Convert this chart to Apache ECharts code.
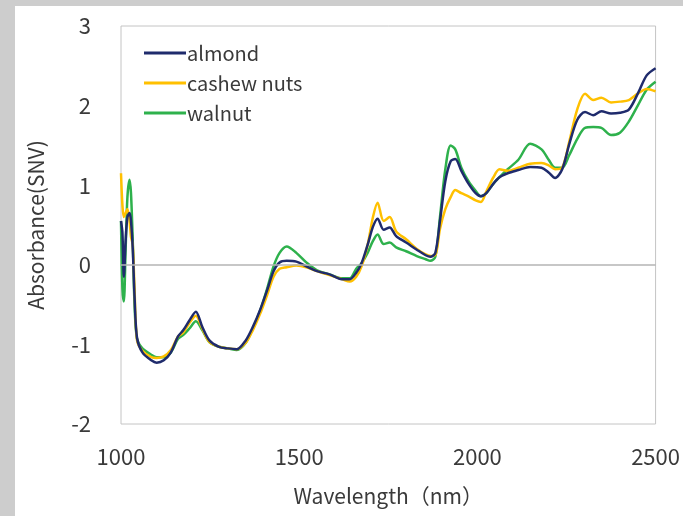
<!DOCTYPE html>
<html>
<head>
<meta charset="utf-8">
<script src="https://cdn.jsdelivr.net/npm/echarts@6/dist/echarts.min.js"></script>
<style>
  html, body { margin: 0; padding: 0; }
  body { width: 683px; height: 516px; background: #cdcdcd; position: relative; overflow: hidden; }
  #chart { position: absolute; left: 15px; top: 6px; width: 668px; height: 510px; background: #fff; }
</style>
</head>
<body>
<div id="chart"></div>
<script>
const wavelength = [1000, 1004, 1008, 1013, 1018, 1024, 1028, 1033, 1038, 1045, 1060, 1085, 1100, 1120, 1140,
  1160, 1175, 1192, 1210, 1228, 1248, 1275, 1300, 1325, 1350, 1370, 1390, 1410, 1428, 1445, 1465, 1492,
  1520, 1550, 1585, 1620, 1642, 1660, 1675, 1692, 1707, 1720, 1737, 1754, 1772, 1800, 1830, 1855, 1868,
  1882, 1895, 1910, 1925, 1938, 1955, 1975, 1995, 2010, 2025, 2045, 2062, 2085, 2115, 2148, 2180, 2200,
  2218, 2238, 2258, 2280, 2302, 2325, 2348, 2375, 2400, 2425, 2450, 2475, 2500];

const almond = [0.55, 0.4, -0.15, 0.3, 0.6, 0.65, 0.55, 0.2, -0.4, -0.92, -1.1, -1.2, -1.23, -1.2, -1.1,
  -0.9, -0.82, -0.7, -0.59, -0.78, -0.95, -1.03, -1.05, -1.06, -0.95, -0.78, -0.57, -0.32, -0.08, 0.03, 0.05, 0.04,
  -0.02, -0.08, -0.12, -0.18, -0.18, -0.1, 0.02, 0.25, 0.48, 0.58, 0.44, 0.47, 0.36, 0.28, 0.19, 0.12, 0.1,
  0.15, 0.55, 1.05, 1.3, 1.33, 1.18, 1.02, 0.9, 0.86, 0.9, 1.02, 1.1, 1.15, 1.19, 1.23, 1.22, 1.16,
  1.09, 1.2, 1.52, 1.82, 1.92, 1.88, 1.93, 1.9, 1.91, 1.95, 2.15, 2.38, 2.47];

const cashewNuts = [1.15, 0.75, 0.6, 0.65, 0.7, 0.55, 0.35, 0.25, -0.3, -0.95, -1.08, -1.16, -1.17, -1.15, -1.07,
  -0.9, -0.85, -0.73, -0.64, -0.8, -0.97, -1.03, -1.05, -1.06, -0.98, -0.82, -0.62, -0.38, -0.15, -0.05, -0.03, -0.01,
  -0.03, -0.08, -0.13, -0.18, -0.21, -0.15, -0.02, 0.25, 0.6, 0.78, 0.55, 0.6, 0.42, 0.32, 0.2, 0.13, 0.11,
  0.12, 0.45, 0.7, 0.85, 0.94, 0.9, 0.86, 0.81, 0.79, 0.92, 1.1, 1.2, 1.18, 1.22, 1.27, 1.28, 1.25,
  1.2, 1.22, 1.55, 1.95, 2.15, 2.07, 2.1, 2.04, 2.05, 2.07, 2.15, 2.21, 2.18];

const walnut = [0.55, -0.3, -0.46, 0.2, 0.85, 1.07, 0.9, 0.3, -0.5, -0.93, -1.05, -1.13, -1.16, -1.16, -1.1,
  -0.93, -0.88, -0.8, -0.71, -0.82, -0.97, -1.03, -1.05, -1.07, -0.98, -0.8, -0.58, -0.3, -0.02, 0.15, 0.23, 0.15,
  0.03, -0.07, -0.12, -0.17, -0.17, -0.05, 0.02, 0.15, 0.3, 0.38, 0.26, 0.28, 0.22, 0.17, 0.11, 0.07, 0.05,
  0.1, 0.6, 1.2, 1.5, 1.45, 1.22, 1.05, 0.93, 0.86, 0.9, 1.02, 1.1, 1.2, 1.32, 1.52, 1.45, 1.32,
  1.22, 1.22, 1.38, 1.58, 1.72, 1.73, 1.72, 1.63, 1.66, 1.8, 2.0, 2.2, 2.3];

const seriesNames = ["almond", "cashew nuts", "walnut"];
const seriesColors = ["#1f2b6c", "#ffc000", "#2eb14c"];

const pair = (vals) => wavelength.map((w, i) => [w, vals[i]]);

const chart = echarts.init(document.getElementById("chart"));
const font = "'Noto Sans CJK JP', 'Noto Sans', sans-serif";

const option = {
  animation: false,
  textStyle: { fontFamily: font },
  grid: {
    left: 106, right: 24, top: 20, bottom: 92,
    show: true,
    borderColor: "#c4c4c4",
    borderWidth: 1,
    backgroundColor: "transparent",
  },
  legend: {
    orient: "vertical",
    left: 124, top: 32,
    itemWidth: 42, itemHeight: 3,
    itemGap: 10,
    icon: "rect",
    data: seriesNames,
    textStyle: { fontSize: 20, color: "#3a3a3a", fontFamily: font, padding: [0, 0, 0, -4] },
  },
  xAxis: {
    type: "value",
    min: 1000, max: 2500, interval: 500,
    name: "Wavelength（nm）",
    nameLocation: "middle",
    nameGap: 62,
    nameTextStyle: { fontSize: 21, color: "#3a3a3a" },
    axisLine: { show: false },
    axisTick: { show: false },
    splitLine: { show: false },
    axisLabel: { fontSize: 22, color: "#3a3a3a", margin: 22, formatter: (v) => String(v) },
  },
  yAxis: {
    type: "value",
    min: -2, max: 3, interval: 1,
    name: "Absorbance(SNV)",
    nameLocation: "middle",
    nameGap: 74,
    nameTextStyle: { fontSize: 21, color: "#3a3a3a" },
    axisLine: { show: false },
    axisTick: { show: false },
    splitLine: { show: false },
    axisLabel: { fontSize: 22, color: "#3a3a3a", margin: 30 },
  },
  series: [almond, cashewNuts, walnut].map((vals, i) => ({
    name: seriesNames[i],
    type: "line",
    data: pair(vals),
    smooth: 0.3,
    symbol: "none",
    lineStyle: { color: seriesColors[i], width: 2.5 },
    itemStyle: { color: seriesColors[i] },
    z: 3 - i,
    markLine: i === 0 ? {
      silent: true,
      symbol: "none",
      label: { show: false },
      lineStyle: { color: "#b4b4b4", width: 1.5, type: "solid" },
      data: [{ yAxis: 0 }],
    } : undefined,
  })),
};

chart.setOption(option);
</script>
</body>
</html>
